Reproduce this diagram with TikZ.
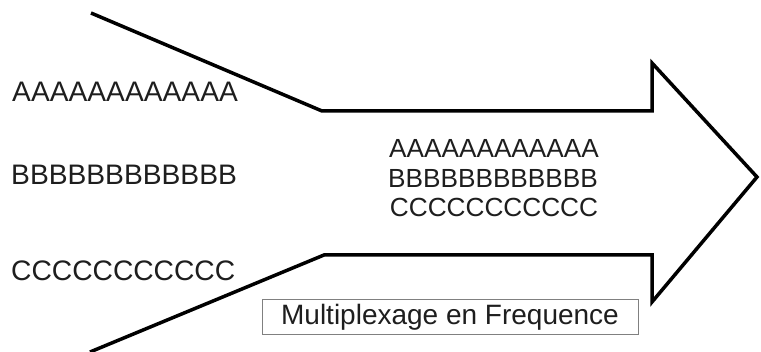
\documentclass[tikz,border=0pt]{standalone}
\usepackage{fontspec}
\setmainfont{Liberation Sans}
\definecolor{ink}{HTML}{1E1E1E}
\definecolor{boxgray}{HTML}{808080}
\begin{document}
\begin{tikzpicture}[x=1pt,y=-1pt,
  bigtxt/.style={text=ink,font=\fontsize{28.2}{30}\selectfont,inner sep=0pt,anchor=west},
  midtxt/.style={text=ink,font=\fontsize{26.2}{30}\selectfont,inner sep=0pt},
  labelbox/.style={draw=boxgray,line width=1pt,text=ink,font=\fontsize{28}{30}\selectfont,minimum width=376pt,minimum height=35pt,inner sep=0pt},
  arrowline/.style={draw=black,line width=3.5pt,line join=miter}]
\useasboundingbox (0,0) rectangle (761,352);
\fill[white] (0,0) rectangle (761,352);
% arrow outline
\coordinate (t0) at (91,13);
\coordinate (t1) at (322,111);
\coordinate (t2) at (652,111);
\coordinate (t3) at (652,63);
\coordinate (tip) at (757,177);
\coordinate (b3) at (652,302);
\coordinate (b2) at (652,255);
\coordinate (b1) at (324,255);
\coordinate (b0) at (90,352);
\draw[arrowline] (t0) -- (t1) -- (t2) -- (t3) -- (tip) -- (b3) -- (b2) -- (b1) -- (b0);
% left texts
\node[bigtxt] (la) at (12,92) {AAAAAAAAAAAA};
\node[bigtxt] (lb) at (11,175) {BBBBBBBBBBBB};
\node[bigtxt] (lc) at (11,271) {CCCCCCCCCCC};
% middle texts
\node[midtxt] (ma) at (494,148) {AAAAAAAAAAAA};
\node[midtxt] (mb) at (493,178) {BBBBBBBBBBBB};
\node[midtxt] (mc) at (494,207) {CCCCCCCCCCC};
% label box
\node[labelbox] (lbl) at (450,317.5) {Multiplexage en Frequence};
\end{tikzpicture}
\end{document}
